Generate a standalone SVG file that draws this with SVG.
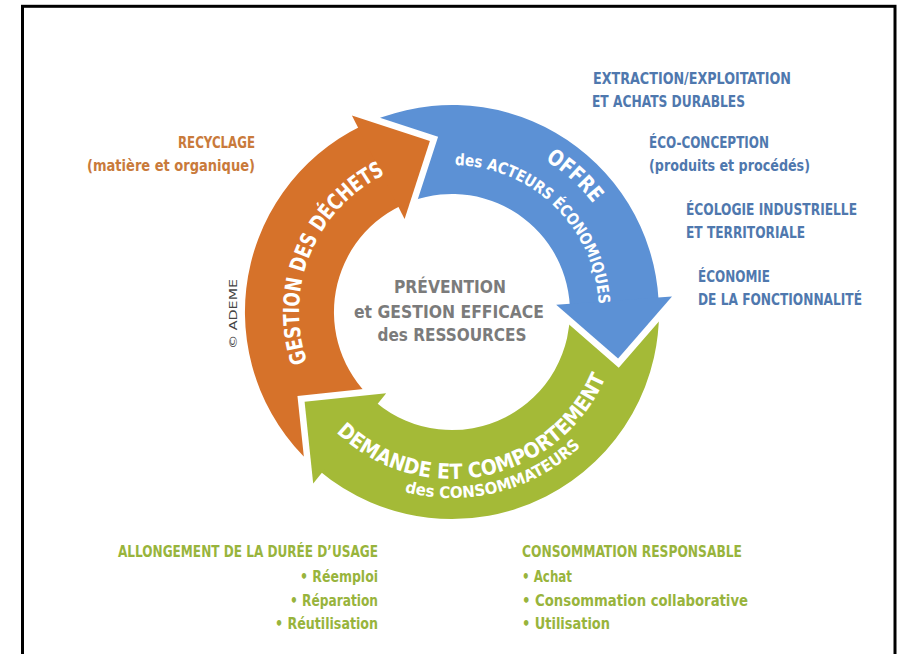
<svg xmlns="http://www.w3.org/2000/svg" xmlns:xlink="http://www.w3.org/1999/xlink" width="902" height="654" viewBox="0 0 902 654">
<style>
.t{font-family:"DejaVu Sans Condensed","DejaVu Sans","Liberation Sans",sans-serif;font-weight:bold}
.lb{fill:#4f78ae;font-size:16px}
.lo{fill:#c97a3b;font-size:16px}
.lg{fill:#98b43c;font-size:16px}
.ctr{fill:#7b7b7b;font-size:18px}
.w{fill:#ffffff}
.big{font-size:22px}
.mid{font-size:21px}
.sm{font-size:16px}
.fo{fill:#d6722a}
.fb{fill:#5c91d5}
.fg{fill:#a4ba37}
.cut{fill:#000;stroke:#000;stroke-width:13;stroke-linejoin:miter}
</style>
<defs>
<path id="hO" d="M351.9,115.5 L429.9,140.9 L404.6,218.9 Z"/>
<path id="hB" d="M672,296.6 L618.1,358.6 L556.2,304.7 Z"/>
<path id="hG" d="M313.2,483.4 L304.6,401.8 L386.2,393.2 Z"/>
<mask id="mO" maskUnits="userSpaceOnUse" x="0" y="0" width="902" height="654">
<rect width="902" height="654" fill="#fff"/>
<use xlink:href="#hG" class="cut"/>
</mask>
<mask id="mB" maskUnits="userSpaceOnUse" x="0" y="0" width="902" height="654">
<rect width="902" height="654" fill="#fff"/>
<use xlink:href="#hO" class="cut"/>
</mask>
<mask id="mG" maskUnits="userSpaceOnUse" x="0" y="0" width="902" height="654">
<rect width="902" height="654" fill="#fff"/>
<use xlink:href="#hB" class="cut"/>
</mask>
<path id="pO" d="M319.5,388.5 A153,153 0 0 1 412.4,164.2"/>
<path id="pB1" d="M489,137.9 A178,178 0 0 1 621.3,257"/>
<path id="pB2" d="M436.6,165.8 A147,147 0 0 1 598.6,322.3"/>
<path id="pG1" d="M310.4,400.5 A167,167 0 0 0 616.9,338.1"/>
<path id="pG2" d="M373.4,480.6 A186,186 0 0 0 602.5,421.3"/>
</defs>
<rect x="0" y="0" width="902" height="654" fill="#fff"/>
<rect id="frame" x="22.5" y="6.3" width="872.5" height="700" fill="none" stroke="#000" stroke-width="3"/>

<g id="connectors">
<g id="arrow-gestion-dechets">
<path class="fo" mask="url(#mO)" d="M321.7,472.9 A207,207 0 0 1 361.3,125.9 L400.3,205.9 A118,118 0 0 0 377.7,403.7 Z"/>
<use xlink:href="#hO" class="fo"/>
<text class="t w big"><textPath xlink:href="#pO" startOffset="50%" text-anchor="middle" textLength="222" lengthAdjust="spacingAndGlyphs">GESTION DES DÉCHETS</textPath></text>
</g>
<g id="arrow-offre">
<path class="fb" mask="url(#mB)" d="M358,127.6 A207,207 0 0 1 658.7,301.2 L569.8,305.8 A118,118 0 0 0 398.4,206.9 Z"/>
<use xlink:href="#hB" class="fb"/>
<text class="t w big"><textPath xlink:href="#pB1" startOffset="50%" text-anchor="middle" textLength="65" lengthAdjust="spacingAndGlyphs">OFFRE</textPath></text>
<text class="t w sm"><textPath xlink:href="#pB2" startOffset="50%" text-anchor="middle" textLength="220" lengthAdjust="spacingAndGlyphs">des ACTEURS ÉCONOMIQUES</textPath></text>
</g>
<g id="arrow-demande">
<path class="fg" mask="url(#mG)" d="M658.5,297.6 A207,207 0 0 1 318.9,470.6 L376.1,402.4 A118,118 0 0 0 569.7,303.8 Z"/>
<use xlink:href="#hG" class="fg"/>
<text class="t w mid"><textPath xlink:href="#pG1" startOffset="50%" text-anchor="middle" textLength="323" lengthAdjust="spacingAndGlyphs">DEMANDE ET COMPORTEMENT</textPath></text>
<text class="t w sm"><textPath xlink:href="#pG2" startOffset="50%" text-anchor="middle" textLength="190" lengthAdjust="spacingAndGlyphs">des CONSOMMATEURS</textPath></text>
</g>
</g>

<g id="center">
<text class="t ctr" x="450" y="293" text-anchor="middle" textLength="112" lengthAdjust="spacingAndGlyphs">PRÉVENTION</text>
<text class="t ctr" x="449" y="318" text-anchor="middle" textLength="190" lengthAdjust="spacingAndGlyphs">et GESTION EFFICACE</text>
<text class="t ctr" x="452" y="341" text-anchor="middle" textLength="149" lengthAdjust="spacingAndGlyphs">des RESSOURCES</text>
</g>

<g id="offre-labels">
<text class="t lb" x="593" y="84" textLength="198" lengthAdjust="spacingAndGlyphs">EXTRACTION/EXPLOITATION</text>
<text class="t lb" x="592" y="107" textLength="153" lengthAdjust="spacingAndGlyphs">ET ACHATS DURABLES</text>
<text class="t lb" x="649" y="148" textLength="120" lengthAdjust="spacingAndGlyphs">ÉCO-CONCEPTION</text>
<text class="t lb" x="649" y="171" textLength="161" lengthAdjust="spacingAndGlyphs">(produits et procédés)</text>
<text class="t lb" x="686" y="215" textLength="171" lengthAdjust="spacingAndGlyphs">ÉCOLOGIE INDUSTRIELLE</text>
<text class="t lb" x="686" y="238" textLength="119" lengthAdjust="spacingAndGlyphs">ET TERRITORIALE</text>
<text class="t lb" x="698" y="282" textLength="72" lengthAdjust="spacingAndGlyphs">ÉCONOMIE</text>
<text class="t lb" x="698" y="305" textLength="164" lengthAdjust="spacingAndGlyphs">DE LA FONCTIONNALITÉ</text>
</g>

<g id="recyclage-labels">
<text class="t lo" x="255" y="148" text-anchor="end" textLength="77" lengthAdjust="spacingAndGlyphs">RECYCLAGE</text>
<text class="t lo" x="255" y="171" text-anchor="end" textLength="168" lengthAdjust="spacingAndGlyphs">(matière et organique)</text>
</g>

<g id="allongement-labels">
<text class="t lg" x="118" y="557" textLength="260" lengthAdjust="spacingAndGlyphs">ALLONGEMENT DE LA DURÉE D’USAGE</text>
<text class="t lg" x="378" y="582" text-anchor="end" textLength="78" lengthAdjust="spacingAndGlyphs">• Réemploi</text>
<text class="t lg" x="378" y="606" text-anchor="end" textLength="88" lengthAdjust="spacingAndGlyphs">• Réparation</text>
<text class="t lg" x="378" y="629" text-anchor="end" textLength="103" lengthAdjust="spacingAndGlyphs">• Réutilisation</text>
</g>

<g id="consommation-labels">
<text class="t lg" x="522" y="557" textLength="220" lengthAdjust="spacingAndGlyphs">CONSOMMATION RESPONSABLE</text>
<text class="t lg" x="522" y="582" textLength="50" lengthAdjust="spacingAndGlyphs">• Achat</text>
<text class="t lg" x="522" y="606" textLength="226" lengthAdjust="spacingAndGlyphs">• Consommation collaborative</text>
<text class="t lg" x="522" y="629" textLength="88" lengthAdjust="spacingAndGlyphs">• Utilisation</text>
</g>

<g id="copyright">
<text class="t" x="0" y="0" transform="translate(237,314) rotate(-90)" text-anchor="middle" font-size="11" fill="#444" textLength="70" lengthAdjust="spacingAndGlyphs" style="font-weight:normal">© ADEME</text>
</g>
</svg>
